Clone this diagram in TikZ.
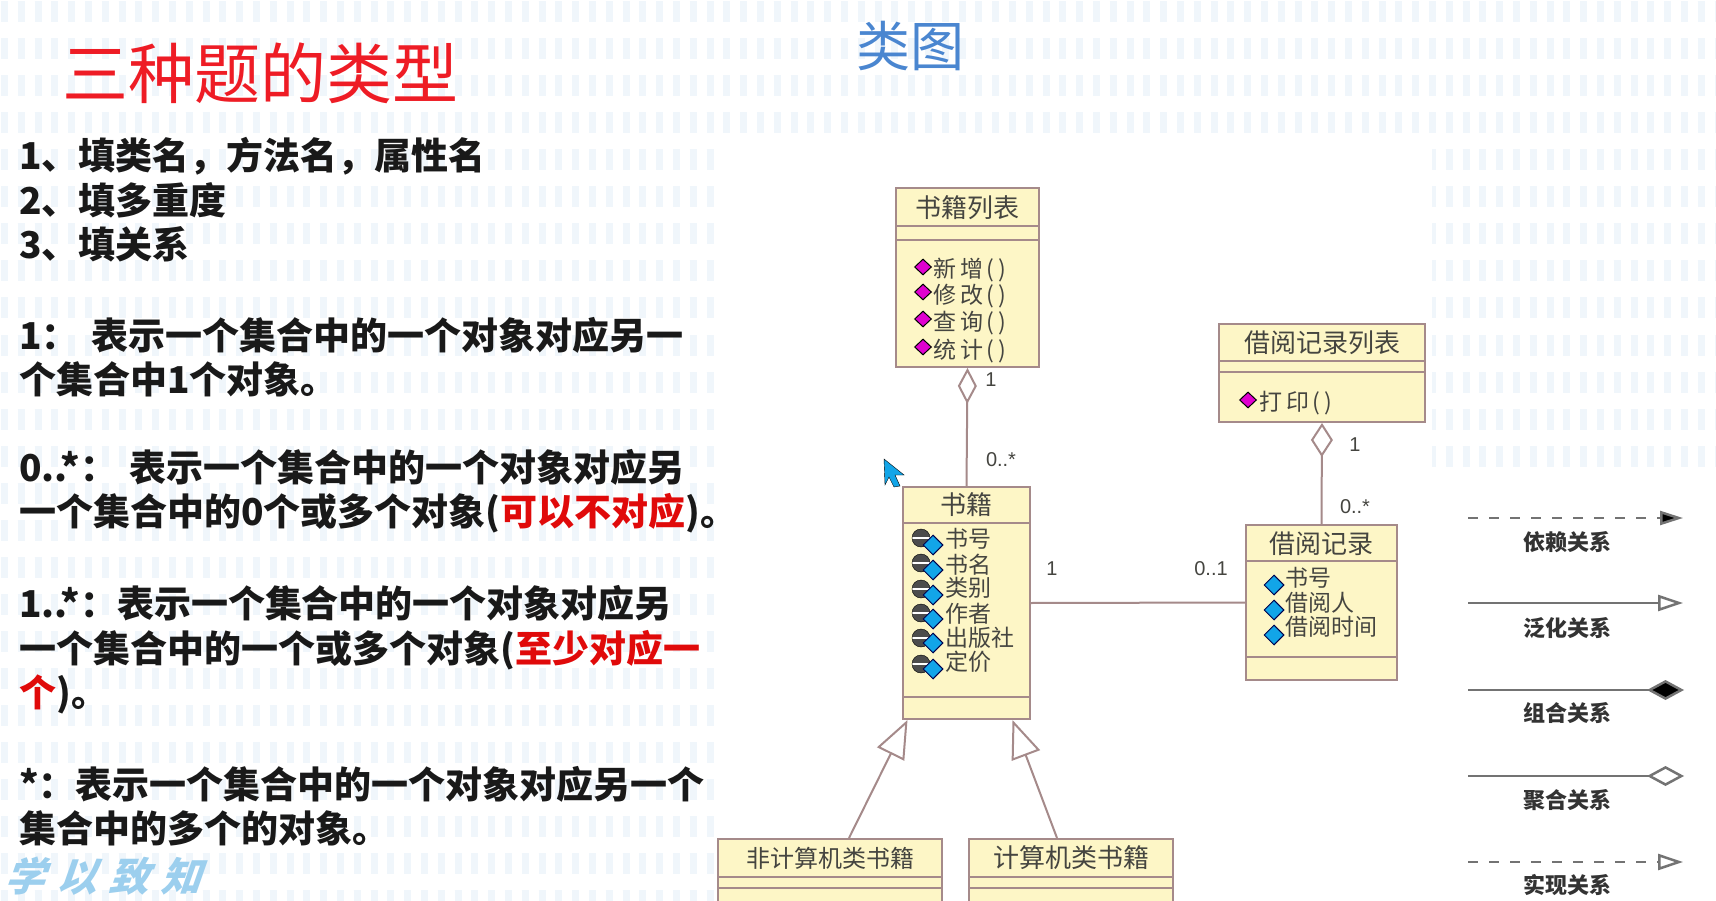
\documentclass[tikz,border=0pt]{standalone}
\usepackage{fontspec}
\setmainfont{Noto Sans CJK SC}
\newfontfamily\latinfont{Liberation Sans}
\usetikzlibrary{arrows.meta,shapes.geometric}
\definecolor{classfill}{HTML}{FDF6C6}
\definecolor{classline}{HTML}{A58A8A}
\definecolor{bgdot}{HTML}{F0F6FB}
\definecolor{titlered}{HTML}{EE1C25}
\definecolor{noteRed}{HTML}{E00A0A}
\definecolor{titleblue}{HTML}{4A86D0}
\definecolor{inkgray}{HTML}{454540}
\definecolor{methodpink}{HTML}{E000D0}
\definecolor{attrblue}{HTML}{12A5E8}
\definecolor{logoblue}{HTML}{9CCFEE}
\tikzset{
	classbox/.style={draw=classline,fill=classfill,line width=2pt,inner sep=0pt},
	classtitle/.style={text=inkgray,font=\fontsize{26}{26}\selectfont,inner sep=0pt},
	member/.style={anchor=west,text=inkgray,font=\fontsize{23}{23}\selectfont,inner sep=0pt},
	multi/.style={text=inkgray,font=\latinfont\fontsize{20}{20}\selectfont,inner sep=0pt},
	methodicon/.style={diamond,draw=black,fill=methodpink,line width=1pt,minimum width=17pt,minimum height=16pt,inner sep=0pt},
	attricon/.style={diamond,draw=black!70!blue,fill=attrblue,line width=1pt,minimum width=20pt,minimum height=20pt,inner sep=0pt},
	lockicon/.style={circle,draw=black,fill=black!70,minimum size=18pt,inner sep=0pt,path picture={\draw[white,line width=2.5pt] (path picture bounding box.west) -- (path picture bounding box.east);}},
	classlink/.style={draw=classline,line width=2pt},
	legendline/.style={draw=black!55,line width=2.5pt},
	legendtext/.style={text=black!80,font=\bfseries\fontsize{22}{22}\selectfont,inner sep=0pt},
	notetext/.style={anchor=west,align=left,inner sep=0pt,text=black!90,font=\bfseries\fontsize{37}{44.5}\selectfont},
}

\begin{document}
\begin{tikzpicture}[x=1pt,y=-1pt]
	\useasboundingbox (0,0) rectangle (1716,901);
	\fill[white] (0,0) rectangle (1716,901);
	\foreach \rowy in {12,49,...,901}
		\draw[bgdot,line width=21pt,dash pattern=on 7pt off 9.8pt] (1,\rowy) -- (1716,\rowy);
	\fill[white] (716,140) rectangle (1432,901);
	\fill[white] (1432,470) rectangle (1716,901);

	\node[text=titlered,font=\fontsize{66}{66}\selectfont,anchor=west,inner sep=0pt] (sanzhong) at (62,73) {三种题的类型};
	\node[text=titleblue,font=\fontsize{54}{54}\selectfont,inner sep=0pt] (leitu) at (910,46) {类图};

	\node[notetext] (tixing) at (19,200) {1、填类名，方法名，属性名\\2、填多重度\\3、填关系};
	\node[notetext] (yidui) at (19,357) {1：\hspace{4pt} 表示一个集合中的一个对象对应另一\\个集合中1个对象。};
	\node[notetext] (lingduo) at (19,491) {0..*：\hspace{4pt} 表示一个集合中的一个对象对应另\\一个集合中的0个或多个对象(\textcolor{noteRed}{可以不对应})。};
	\node[notetext] (yiduo) at (19,650) {1..*：表示一个集合中的一个对象对应另\\一个集合中的一个或多个对象(\textcolor{noteRed}{至少对应一}\\\textcolor{noteRed}{个})。};
	\node[notetext] (duo) at (19,806) {*：表示一个集合中的一个对象对应另一个\\集合中的多个的对象。};
	\node[text=logoblue,font=\bfseries\fontsize{40}{40}\selectfont,xslant=.35,transform shape,inner sep=0pt] (xueyi) at (108,876) {学\hspace{12pt}以\hspace{12pt}致\hspace{12pt}知};

	\node[classbox,minimum width=143pt,minimum height=179pt] (shujiliebiao) at (967.5,277.5) {};
	\draw[classlink] (896,226) -- (1039,226);
	\draw[classlink] (896,240) -- (1039,240);
	\node[classtitle] (shujiliebiaot) at (967.5,208) {书籍列表};
	\node[methodicon] (xinzengi) at (923,267) {};
	\node[methodicon] (xiugaii) at (923,292) {};
	\node[methodicon] (chaxuni) at (923,319) {};
	\node[methodicon] (tongjii) at (923,347) {};
	\node[member] (xinzeng) at (933,270) {新\,增\,(\,)};
	\node[member] (xiugai) at (933,296) {修\,改\,(\,)};
	\node[member] (chaxun) at (933,323) {查\,询\,(\,)};
	\node[member] (tongji) at (933,351) {统\,计\,(\,)};

	\node[classbox,minimum width=206pt,minimum height=98pt] (jieyueliebiao) at (1322,373) {};
	\draw[classlink] (1219,361) -- (1425,361);
	\draw[classlink] (1219,372) -- (1425,372);
	\node[classtitle] (jieyueliebiaot) at (1322,343) {借阅记录列表};
	\node[methodicon] (dayini) at (1248,400) {};
	\node[member] (dayin) at (1259,403) {打\,印\,(\,)};

	\node[classbox,minimum width=127pt,minimum height=232pt] (shuji) at (966.5,603) {};
	\draw[classlink] (903,523) -- (1030,523);
	\draw[classlink] (903,697) -- (1030,697);
	\node[classtitle] (shujit) at (966.5,505) {书籍};
	\node[lockicon] (lock1) at (921,538) {};
	\node[lockicon] (lock2) at (921,563) {};
	\node[lockicon] (lock3) at (921,589) {};
	\node[lockicon] (lock4) at (921,613) {};
	\node[lockicon] (lock5) at (921,638) {};
	\node[lockicon] (lock6) at (921,664) {};
	\node[attricon] (shuhaoi) at (933,545) {};
	\node[attricon] (shumingi) at (933,570) {};
	\node[attricon] (leibiei) at (933,595) {};
	\node[attricon] (zuozhei) at (933,619) {};
	\node[attricon] (chubansheni) at (933,643) {};
	\node[attricon] (dingjiai) at (933,669) {};
	\node[member] (shuhao) at (945,539) {书号};
	\node[member] (shuming) at (945,565) {书名};
	\node[member] (leibie) at (945,588) {类别};
	\node[member] (zuozhe) at (945,614) {作者};
	\node[member] (chubanshe) at (945,638) {出版社};
	\node[member] (dingjia) at (945,662) {定价};

	\node[classbox,minimum width=151pt,minimum height=155pt] (jieyue) at (1321.5,602.5) {};
	\draw[classlink] (1246,561) -- (1397,561);
	\draw[classlink] (1246,657) -- (1397,657);
	\node[classtitle] (jieyuet) at (1321.5,544) {借阅记录};
	\node[attricon] (jshuhaoi) at (1274,585) {};
	\node[attricon] (jierenI) at (1274,610) {};
	\node[attricon] (shijiani) at (1274,635) {};
	\node[member] (jshuhao) at (1285,578) {书号};
	\node[member] (jieren) at (1285,603) {借阅人};
	\node[member] (shijian) at (1285,627) {借阅时间};

	\node[classbox,minimum width=224pt,minimum height=72pt] (feijisuanji) at (830,875) {};
	\draw[classlink] (718,877) -- (942,877);
	\draw[classlink] (718,888) -- (942,888);
	\node[classtitle,font=\fontsize{24}{24}\selectfont] (feijisuanjit) at (830,858) {非计算机类书籍};
	\node[classbox,minimum width=204pt,minimum height=72pt] (jisuanji) at (1071,875) {};
	\draw[classlink] (969,877) -- (1173,877);
	\draw[classlink] (969,888) -- (1173,888);
	\node[classtitle] (jisuanjit) at (1071,858) {计算机类书籍};

	\draw[classlink,{Diamond[open,fill=white,length=36pt,width=19pt]}-] (shujiliebiao.south) -- (shuji.north);
	\draw[classlink,{Diamond[open,fill=white,length=34pt,width=22pt]}-] (jieyueliebiao.south) -- (jieyue.north);
	\draw[classlink] (shuji.east) -- (jieyue.west);
	\draw[classlink,-{Triangle[open,fill=white,length=38pt,width=30pt]}] ([xshift=19pt]feijisuanji.north) -- ([xshift=-59pt]shuji.south);
	\draw[classlink,-{Triangle[open,fill=white,length=38pt,width=30pt]}] ([xshift=-14pt]jisuanji.north) -- ([xshift=46pt]shuji.south);

	\node[multi] (m1) at (991,380) {1};
	\node[multi] (m2) at (1001,460) {0..*};
	\node[multi] (m3) at (1355,445) {1};
	\node[multi] (m4) at (1355,507) {0..*};
	\node[multi] (m5) at (1052,569) {1};
	\node[multi] (m6) at (1211,569) {0..1};

	\fill[attrblue,draw=black] (884,459) -- (904,475) -- (895,475) -- (900,486) -- (894,487) -- (889,477) -- (885,485) -- cycle;

	\coordinate (yilaia) at (1468,518);
	\coordinate (yilaib) at (1683,518);
	\coordinate (fanhuaa) at (1468,603);
	\coordinate (fanhuab) at (1683,603);
	\coordinate (zuhea) at (1468,690);
	\coordinate (zuheb) at (1684,690);
	\coordinate (juhea) at (1468,776);
	\coordinate (juheb) at (1684,776);
	\coordinate (shixiana) at (1468,862);
	\coordinate (shixianb) at (1683,862);
	\draw[legendline,dash pattern=on 10pt off 11pt,-{Triangle[fill=black,length=23pt,width=14pt]}] (yilaia) -- (yilaib);
	\draw[legendline,-{Triangle[open,fill=white,length=25pt,width=16pt]}] (fanhuaa) -- (fanhuab);
	\draw[legendline,-{Diamond[fill=black,length=37pt,width=20pt]}] (zuhea) -- (zuheb);
	\draw[legendline,-{Diamond[open,fill=white,length=37pt,width=20pt]}] (juhea) -- (juheb);
	\draw[legendline,dash pattern=on 10pt off 11pt,-{Triangle[open,fill=white,length=25pt,width=16pt]}] (shixiana) -- (shixianb);
	\node[legendtext] (yilai) at (1567,542) {依赖关系};
	\node[legendtext] (fanhua) at (1567,628) {泛化关系};
	\node[legendtext] (zuhe) at (1567,713) {组合关系};
	\node[legendtext] (juhe) at (1567,800) {聚合关系};
	\node[legendtext] (shixian) at (1567,885) {实现关系};
\end{tikzpicture}
\end{document}
